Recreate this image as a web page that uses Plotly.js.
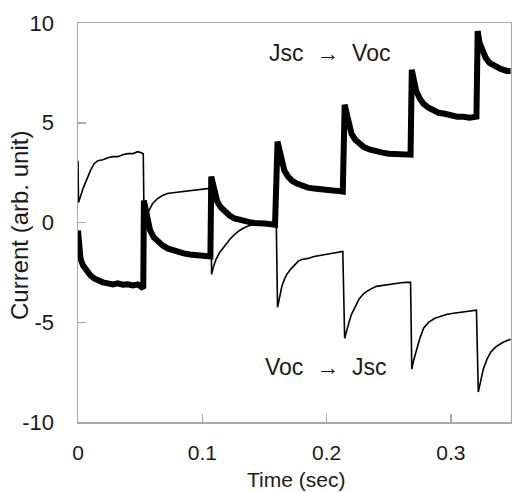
<!DOCTYPE html>
<html>
<head>
<meta charset="utf-8">
<script src="https://cdn.plot.ly/plotly-3.0.1.min.js"></script>
<style>html,body{margin:0;padding:0;background:#fff;}#chart{width:512px;height:492px;}</style>
</head>
<body>
<div id="chart"></div>
<script>
// Jsc -> Voc (thick trace)
const thickT = [0,0.0008,0.002,0.004,0.007,0.010,0.013,0.016,0.020,0.024,0.028,0.032,0.036,0.040,0.044,0.048,0.051,0.0525,
  0.0530,0.0545,0.056,0.058,0.061,0.064,0.068,0.072,0.076,0.080,0.085,0.090,0.095,0.100,0.104,0.1065,
  0.1072,0.1085,0.110,0.112,0.115,0.118,0.122,0.126,0.130,0.134,0.138,0.142,0.146,0.150,0.154,0.1585,
  0.1605,0.162,0.164,0.166,0.169,0.172,0.176,0.180,0.185,0.190,0.195,0.200,0.205,0.210,0.213,
  0.2145,0.216,0.218,0.220,0.223,0.226,0.230,0.235,0.240,0.245,0.250,0.255,0.260,0.265,0.2675,
  0.2685,0.270,0.272,0.275,0.278,0.282,0.286,0.290,0.295,0.300,0.305,0.310,0.315,0.3205,
  0.3215,0.323,0.325,0.328,0.331,0.335,0.340,0.345,0.348];
const thickV = [-0.4,-1.2,-1.8,-2.15,-2.45,-2.65,-2.8,-2.9,-3.0,-3.05,-3.1,-3.05,-3.12,-3.1,-3.15,-3.1,-3.2,-3.3,
  1.1,0.6,0.0,-0.4,-0.75,-0.95,-1.15,-1.3,-1.4,-1.5,-1.55,-1.6,-1.62,-1.65,-1.68,-1.7,
  2.3,1.9,1.4,1.05,0.75,0.55,0.35,0.2,0.12,0.05,0.02,-0.02,0.0,-0.05,-0.08,-0.12,
  4.05,3.6,3.0,2.6,2.3,2.1,1.95,1.85,1.75,1.7,1.65,1.62,1.6,1.58,1.55,
  5.9,5.4,4.8,4.45,4.15,3.95,3.78,3.65,3.55,3.5,3.45,3.42,3.4,3.38,3.4,
  7.65,7.1,6.6,6.2,5.95,5.75,5.6,5.5,5.45,5.35,5.3,5.3,5.25,5.3,
  9.6,9.0,8.6,8.25,8.0,7.85,7.7,7.6,7.6];

// Voc -> Jsc (thin trace)
const thinT = [0,0.0004,0.002,0.004,0.007,0.010,0.013,0.016,0.020,0.024,0.028,0.032,0.036,0.040,0.044,0.048,0.051,0.0525,
  0.0532,0.055,0.057,0.060,0.064,0.068,0.072,0.078,0.084,0.090,0.096,0.100,0.104,0.1065,
  0.1075,0.109,0.111,0.114,0.118,0.122,0.126,0.130,0.134,0.138,0.142,0.146,0.150,0.155,0.1595,
  0.1605,0.162,0.164,0.166,0.168,0.171,0.174,0.177,0.180,0.185,0.190,0.195,0.200,0.205,0.210,0.213,
  0.2145,0.216,0.218,0.220,0.223,0.226,0.230,0.235,0.240,0.245,0.250,0.255,0.260,0.264,0.2675,
  0.2685,0.270,0.2725,0.275,0.278,0.282,0.287,0.292,0.297,0.302,0.308,0.314,0.319,0.3205,
  0.322,0.3235,0.326,0.329,0.332,0.335,0.338,0.342,0.346,0.348];
const thinV = [3.1,1.0,1.3,1.7,2.15,2.6,2.95,3.1,3.15,3.25,3.3,3.3,3.4,3.45,3.45,3.55,3.5,3.45,
  -0.2,0.2,0.6,0.95,1.2,1.35,1.45,1.5,1.55,1.6,1.65,1.7,1.7,1.65,
  -2.6,-2.2,-1.85,-1.5,-1.15,-0.85,-0.6,-0.4,-0.25,-0.15,-0.1,-0.08,-0.05,-0.05,-0.05,
  -4.25,-3.8,-3.2,-2.85,-2.6,-2.35,-2.15,-1.95,-1.85,-1.8,-1.7,-1.65,-1.6,-1.55,-1.5,-1.45,
  -5.8,-5.4,-5.0,-4.6,-4.2,-3.85,-3.55,-3.35,-3.2,-3.15,-3.1,-3.05,-3.02,-3.0,-3.0,
  -7.35,-6.9,-6.35,-5.8,-5.3,-5.0,-4.8,-4.7,-4.6,-4.55,-4.5,-4.45,-4.42,-4.4,
  -8.5,-8.0,-7.35,-6.85,-6.5,-6.3,-6.15,-6.0,-5.9,-5.85];

const xTicks = [0, 0.1, 0.2, 0.3];
const xTickText = ['0', '0.1', '0.2', '0.3'];
const yTicks = [-10, -5, 0, 5, 10];
const yTickText = ['-10', '-5', '0', '5', '10'];

const FONT = 'Liberation Sans, Arial, sans-serif';
const NB = '\u00a0';
const TXT = '#1a1a1a';

const traces = [
  {x: thinT, y: thinV, mode: 'lines', line: {color: '#000', width: 1.6}, hoverinfo: 'skip'},
  {x: thickT, y: thickV, mode: 'lines', line: {color: '#000', width: 6}, hoverinfo: 'skip'}
];

const axisCommon = {
  showgrid: false, zeroline: false,
  showline: true, linecolor: '#a8a8a8', linewidth: 1.5, mirror: true,
  ticks: 'inside', ticklen: 8, tickcolor: '#a8a8a8', tickwidth: 1.5,
  tickfont: {family: FONT, size: 22, color: TXT},
  tickmode: 'array'
};

// plot area in pixels: left 78, right 511, top 23, bottom 422
const PL = 78, PW = 433, PT = 23, PH = 399;

const layout = {
  width: 512, height: 492,
  margin: {l: PL, r: 512 - PL - PW, t: PT, b: 492 - PT - PH},
  paper_bgcolor: '#fff', plot_bgcolor: '#fff',
  showlegend: false,
  xaxis: Object.assign({}, axisCommon, {
    range: [0, 0.3483], tickvals: xTicks, ticktext: xTickText,
    tickfont: {family: FONT, size: 21, color: TXT},
    ticklabelstandoff: 11
  }),
  yaxis: Object.assign({}, axisCommon, {
    range: [-10, 10], tickvals: yTicks, ticktext: yTickText,
    ticklabelstandoff: 18
  }),
  annotations: [
    {text: 'Jsc' + NB + NB + '→' + NB + NB + 'Voc', xref: 'paper', yref: 'paper',
     x: (329 - PL) / PW, y: (PT + PH - 53) / PH, xanchor: 'center', yanchor: 'middle', showarrow: false,
     font: {family: FONT, size: 23, color: TXT}},
    {text: 'Voc' + NB + NB + '→' + NB + NB + 'Jsc', xref: 'paper', yref: 'paper',
     x: (325 - PL) / PW, y: (PT + PH - 367) / PH, xanchor: 'center', yanchor: 'middle', showarrow: false,
     font: {family: FONT, size: 23, color: TXT}},
    // axis titles
    {text: 'Time (sec)', xref: 'paper', yref: 'paper',
     x: (296 - PL) / PW, y: (PT + PH - 479) / PH, xanchor: 'center', yanchor: 'middle', showarrow: false,
     font: {family: FONT, size: 21, color: TXT}},
    {text: 'Current (arb. unit)', xref: 'paper', yref: 'paper', textangle: -90,
     x: (19 - PL) / PW, y: (PT + PH - 226) / PH, xanchor: 'center', yanchor: 'middle', showarrow: false,
     font: {family: FONT, size: 24, color: TXT}}
  ]
};

Plotly.newPlot('chart', traces, layout, {staticPlot: true, displayModeBar: false});
</script>
</body>
</html>
